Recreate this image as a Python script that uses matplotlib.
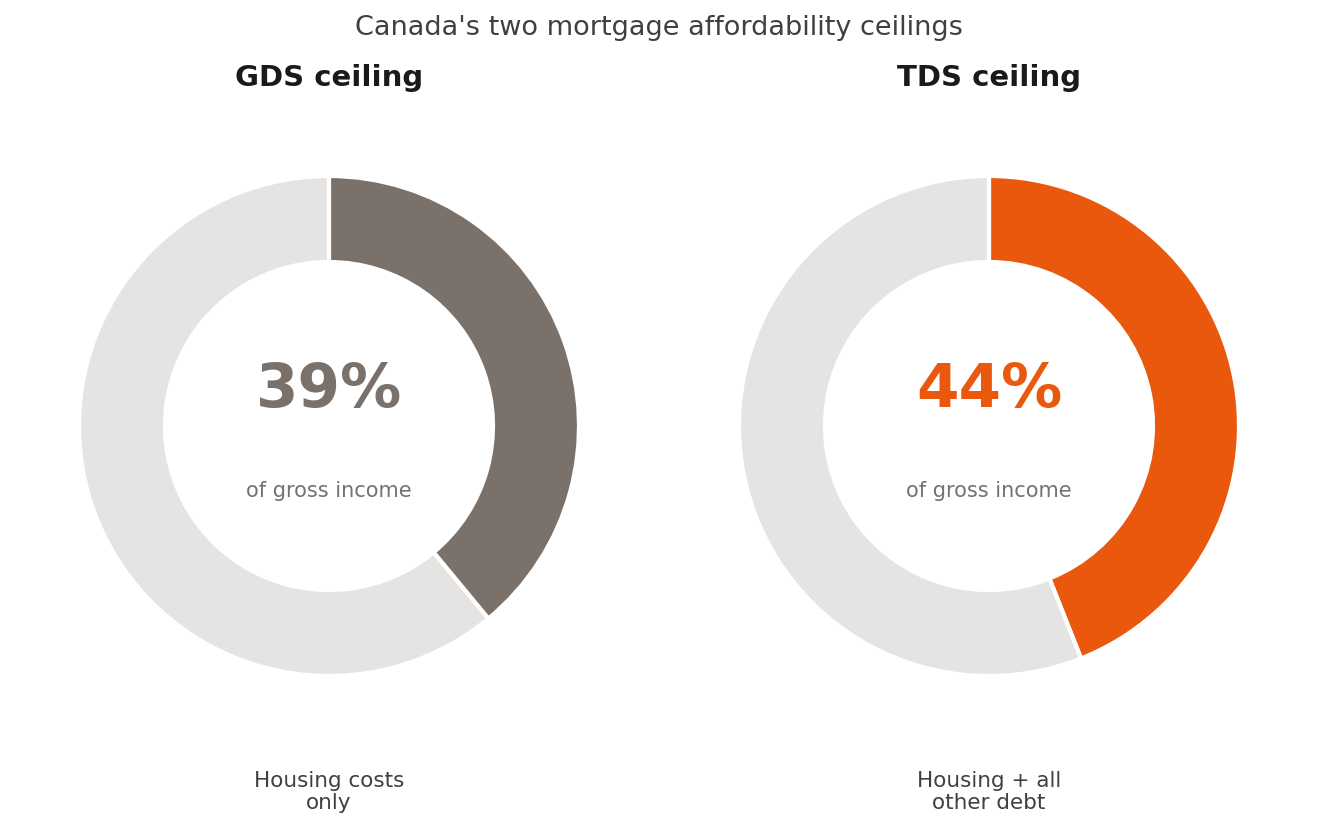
import matplotlib
matplotlib.use('Agg')
import matplotlib.pyplot as plt

plt.rcParams['font.family'] = ['DejaVu Sans']

titles = ['GDS ceiling', 'TDS ceiling']
shares = [39, 44]
notes = ['Housing costs\nonly', 'Housing + all\nother debt']
colors = ['#7a716b', '#e9580c']
rest_color = '#e5e4e2'

fig = plt.figure(figsize=(13.17, 8.28), dpi=100)
fig.text(0.5, 1 - 28 / 828, "Canada's two mortgage affordability ceilings",
         ha='center', va='center', fontsize=19.5, color='#404040')

W, H = 1317, 828
centers_x = [329, 989]
cy = 427
r = 250

for i in range(2):
    ax = fig.add_axes([(centers_x[i] - r) / W, (H - cy - r) / H, 2 * r / W, 2 * r / H])
    ax.pie([shares[i], 100 - shares[i]], colors=[colors[i], rest_color],
           startangle=90, counterclock=False, radius=1,
           wedgeprops=dict(width=0.344, edgecolor='white', linewidth=3))
    ax.set_xlim(-1, 1)
    ax.set_ylim(-1, 1)
    ax.set_aspect('equal')
    ax.axis('off')
    ax.text(0, 0.145, f'{shares[i]}%', ha='center', va='center',
            fontsize=44, fontweight='bold', color=colors[i])
    ax.text(0, -0.258, 'of gross income', ha='center', va='center',
            fontsize=15, color='#77716d')
    fig.text(centers_x[i] / W, 1 - 78 / H, titles[i], ha='center', va='center',
             fontsize=21, fontweight='bold', color='#1c1a19')
    fig.text(centers_x[i] / W, 1 - 792 / H, notes[i], ha='center', va='center',
             fontsize=15.5, color='#404040', linespacing=1.12)

plt.savefig('out.png', dpi=100)
